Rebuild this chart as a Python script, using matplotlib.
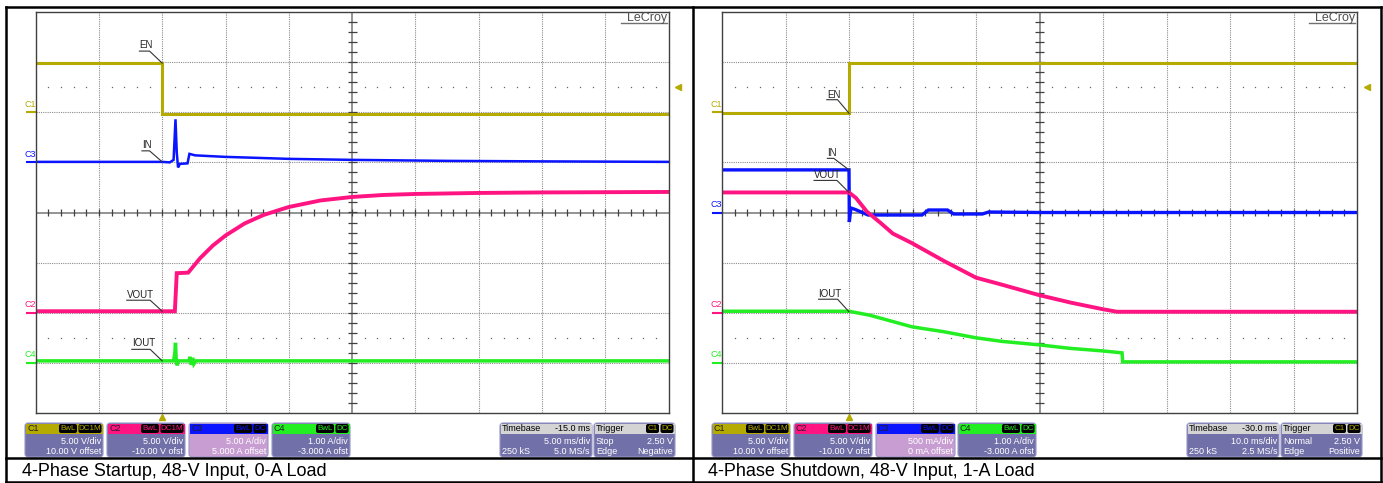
import matplotlib.pyplot as plt
import numpy as np
from matplotlib.patches import FancyBboxPatch, Rectangle

plt.rcParams['font.family'] = ['Liberation Sans', 'DejaVu Sans']

W, H = 1383, 483

# scope traces in divisions (x 0..10, y -4..4)
# startup (left screen)
s_en_t = [0, 2.0, 2.0, 10]
s_en_v = [2.98, 2.98, 1.97, 1.97]
s_in_t = [0, 2.0, 2.12, 2.18, 2.21, 2.23, 2.25, 2.28, 2.40, 2.43, 2.52, 2.99, 3.5, 4.0, 5.0, 6.5, 8.0, 10]
s_in_v = [1.01, 1.01, 1.0, 1.05, 1.86, 1.2, 0.9, 0.97, 0.98, 1.17, 1.14, 1.11, 1.09, 1.07, 1.05, 1.03, 1.02, 1.01]
s_vout_t = [0, 2.2, 2.23, 2.41, 2.6, 2.8, 3.0, 3.3, 3.6, 4.0, 4.5, 5.0, 5.5, 6.0, 7.0, 8.0, 10]
s_vout_v = [-1.97, -1.97, -1.21, -1.20, -0.91, -0.66, -0.46, -0.22, -0.05, 0.11, 0.24, 0.31, 0.35, 0.37, 0.39, 0.40, 0.41]
s_iout_t = [0, 2.18, 2.20, 2.21, 2.22, 2.235, 2.26, 2.42, 2.44, 2.46, 2.48, 2.50, 2.53, 10]
s_iout_v = [-2.96, -2.96, -2.8, -2.6, -2.9, -3.05, -2.96, -2.96, -2.88, -3.04, -2.9, -3.02, -2.96, -2.96]

# shutdown (right screen)
d_en_t = [0, 2.0, 2.0, 10]
d_en_v = [1.98, 1.98, 2.99, 2.99]
d_in_t = [0, 2.0, 2.005, 2.03, 2.1, 2.3, 3.15, 3.25, 3.55, 3.65, 4.1, 4.2, 5.0, 10]
d_in_v = [0.85, 0.85, -0.19, 0.09, 0.06, -0.05, -0.05, 0.05, 0.05, -0.03, -0.03, 0.01, 0.0, 0.0]
d_vout_t = [0, 2.0, 2.11, 2.28, 2.49, 2.69, 2.99, 3.5, 4.0, 4.38, 5.0, 5.5, 6.0, 6.22, 10]
d_vout_v = [0.40, 0.40, 0.29, 0.02, -0.20, -0.42, -0.61, -0.97, -1.30, -1.43, -1.65, -1.80, -1.93, -1.98, -1.98]
d_iout_t = [0, 2.0, 2.33, 2.99, 3.5, 4.0, 4.4, 4.99, 5.48, 5.98, 6.30, 6.31, 10]
d_iout_v = [-1.97, -1.97, -2.05, -2.28, -2.38, -2.50, -2.57, -2.64, -2.71, -2.76, -2.80, -2.98, -2.98]

c1, c2, c3, c4 = '#b4aa00', '#ff1482', '#0a14ff', '#22ee22'
body = '#7170a8'
body3 = '#c89ed2'

captions = ['4-Phase Startup, 48-V Input, 0-A Load', '4-Phase Shutdown, 48-V Input, 1-A Load']

chan_box = [
    ('C1', c1, ['BwL', 'DC1M'], ['5.00 V/div', '10.00 V offset'], body),
    ('C2', c2, ['BwL', 'DC1M'], ['5.00 V/div', '-10.00 V ofst'], body),
    ('C3', c3, ['BwL', 'DC'], ['5.00 A/div', '5.000 A offset'], body3),
    ('C4', c4, ['BwL', 'DC'], ['1.00 A/div', '-3.000 A ofst'], body),
]
chan_box2 = [
    chan_box[0], chan_box[1],
    ('C3', c3, ['BwL', 'DC'], ['500 mA/div', '0 mA offset'], body3),
    chan_box[3],
]
timebase = [('-15.0 ms', '5.00 ms/div', '250 kS', '5.0 MS/s', 'Stop', '2.50 V', 'Negative'),
            ('-30.0 ms', '10.0 ms/div', '250 kS', '2.5 MS/s', 'Normal', '2.50 V', 'Positive')]

fig = plt.figure(figsize=(W / 100, H / 100), dpi=100)
bg = fig.add_axes([0, 0, 1, 1])
bg.set_xlim(0, W)
bg.set_ylim(H, 0)
bg.axis('off')

# outer frame
for x in [5.5, 693, 1381]:
    bg.plot([x, x], [7, H], color='black', lw=1.8)
for y in [7, 458, 482]:
    bg.plot([5.5, 1381], [y, y], color='black', lw=1.8)


def tag_row(x_right, y, tags, col):
    # little black tags, right aligned
    for tg in reversed(tags):
        w = 5.0 * len(tg) + 3
        bg.add_patch(FancyBboxPatch((x_right - w, y - 4.5), w, 9, boxstyle='round,pad=0,rounding_size=2',
                                    fc='black', ec='none'))
        bg.text(x_right - w / 2, y + 0.3, tg, color=col, fontsize=5.8, ha='center', va='center')
        x_right -= w + 1.5


def chan_panel(x, w, name, col, tags, lines, bcol):
    top = 423
    bg.add_patch(FancyBboxPatch((x, top), w, 34, boxstyle='round,pad=0,rounding_size=3',
                                fc=bcol, ec='#9a98c8', lw=0.8))
    bg.add_patch(Rectangle((x + 0.5, top + 0.5), w - 1, 10, fc=col, ec='none'))
    bg.text(x + 2, top + 5.5, name, fontsize=6.5, color='#202020', va='center')
    tag_row(x + w - 1.5, top + 5.5, tags, col)
    bg.text(x + w - 2, top + 18, lines[0], fontsize=6.5, color='white', ha='right', va='center')
    bg.text(x + w - 2, top + 29, lines[1], fontsize=6.5, color='white', ha='right', va='center')


def time_panels(x, info):
    top = 423
    off, div, ks, rate, mode, lvl, slope = info
    bg.add_patch(FancyBboxPatch((x, top), 92, 34, boxstyle='round,pad=0,rounding_size=3',
                                fc=body, ec='#9a98c8', lw=0.8))
    bg.add_patch(Rectangle((x + 0.5, top + 0.5), 91, 10, fc='#d4d4d4', ec='none'))
    bg.text(x + 2, top + 5.5, 'Timebase', fontsize=6.5, va='center')
    bg.text(x + 90, top + 5.5, off, fontsize=6.5, va='center', ha='right')
    bg.text(x + 90, top + 18, div, fontsize=6.5, va='center', ha='right', color='white')
    bg.text(x + 2, top + 29, ks, fontsize=6.5, va='center', color='white')
    bg.text(x + 90, top + 29, rate, fontsize=6.5, va='center', ha='right', color='white')
    x2 = x + 94
    bg.add_patch(FancyBboxPatch((x2, top), 81, 34, boxstyle='round,pad=0,rounding_size=3',
                                fc=body, ec='#9a98c8', lw=0.8))
    bg.add_patch(Rectangle((x2 + 0.5, top + 0.5), 80, 10, fc='#d4d4d4', ec='none'))
    bg.text(x2 + 2, top + 5.5, 'Trigger', fontsize=6.5, va='center')
    tag_row(x2 + 79.5, top + 5.5, ['C1', 'DC'], c1)
    bg.text(x2 + 2, top + 18, mode, fontsize=6.5, va='center', color='white')
    bg.text(x2 + 79, top + 18, lvl, fontsize=6.5, va='center', ha='right', color='white')
    bg.text(x2 + 2, top + 29, 'Edge', fontsize=6.5, va='center', color='white')
    bg.text(x2 + 79, top + 29, slope, fontsize=6.5, va='center', ha='right', color='white')


def screen(rect, traces, levels, labels):
    ax = fig.add_axes(rect)
    ax.set_xlim(0, 10)
    ax.set_ylim(-4, 4)
    ax.set_xticks([])
    ax.set_yticks([])
    for sp in ax.spines.values():
        sp.set_color('#404040')
        sp.set_linewidth(1)
    for k in range(1, 10):
        if k != 5:
            ax.axvline(k, color='#8c8c8c', lw=0.8, ls=(0, (1, 1)))
    for k in range(-3, 4):
        if k != 0:
            ax.axhline(k, color='#8c8c8c', lw=0.8, ls=(0, (1, 1)))
    ax.axhline(0, color='#808080', lw=1.2)
    ax.axvline(5, color='#808080', lw=1.2)
    tk = np.arange(0.2, 10, 0.2)
    ax.vlines(tk, -0.07, 0.07, color='#404040', lw=0.9)
    tk = np.arange(-3.8, 4, 0.2)
    ax.hlines(tk, 4.93, 5.07, color='#404040', lw=0.9)
    # trigger level dots
    dots = [d for d in np.arange(0.2, 10, 0.2) if abs(d - round(d)) > 0.05]
    for lv in [2.5, -2.5]:
        ax.plot(dots, [lv] * len(dots), ls='none', marker='s', ms=0.9, mew=0, color='#666666')

    for t, v, col, lw in traces:
        ax.plot(t, v, color=col, lw=lw, solid_joinstyle='miter')

    # channel markers on left edge
    for name, col, lv in levels:
        ax.plot([-0.14, 0], [lv, lv], color=col, lw=1.5, clip_on=False)
        ax.text(-0.09, lv + 0.07, name, color=col, fontsize=6.5, ha='center', va='bottom')
    ax.plot([2.0], [-4.07], marker='^', ms=5, color=c1, clip_on=False)
    ax.plot([10.15], [2.5], marker='<', ms=5, color=c1, clip_on=False)

    for txt, x0, x1, ytxt, yul, ytg, vtg in labels:
        ax.text(x0, ytxt, txt, fontsize=7, color='#222222', va='center', ha='left')
        ax.plot([x0, x1, 2.0], [yul, yul, vtg], color='#333333', lw=0.8)

    ax.text(0.997, 0.978, 'LeCroy', transform=ax.transAxes, ha='right', va='baseline',
            fontsize=9, color='#505050')
    ax.plot([0.925, 0.997], [0.972, 0.972], transform=ax.transAxes, color='#707070', lw=1)
    return ax


screen([35.6 / W, 70 / H, 633 / W, 401 / H],
       [(s_en_t, s_en_v, c1, 2.2), (s_in_t, s_in_v, c3, 1.8),
        (s_vout_t, s_vout_v, c2, 2.8), (s_iout_t, s_iout_v, c4, 2.5)],
       [('C1', c1, 2.0), ('C3', c3, 1.0), ('C2', c2, -2.0), ('C4', c4, -3.0)],
       [('EN', 1.64, 1.80, 3.34, 3.22, 2.0, 2.98),
        ('IN', 1.68, 1.80, 1.35, 1.23, 2.0, 1.01),
        ('VOUT', 1.44, 1.81, -1.64, -1.75, 2.0, -1.97),
        ('IOUT', 1.52, 1.81, -2.61, -2.73, 2.0, -2.96)])

screen([722 / W, 70 / H, 635 / W, 401 / H],
       [(d_en_t, d_en_v, c1, 2.2), (d_in_t, d_in_v, c3, 2.4),
        (d_vout_t, d_vout_v, c2, 2.8), (d_iout_t, d_iout_v, c4, 2.5)],
       [('C1', c1, 2.0), ('C3', c3, 0.0), ('C2', c2, -2.0), ('C4', c4, -3.0)],
       [('EN', 1.65, 1.82, 2.35, 2.25, 2.0, 1.98),
        ('IN', 1.66, 1.76, 1.19, 1.08, 2.0, 0.85),
        ('VOUT', 1.45, 1.81, 0.75, 0.64, 2.0, 0.40),
        ('IOUT', 1.52, 1.82, -1.62, -1.73, 2.0, -1.98)])

xs = [[25, 107, 189, 272], [712, 794, 876, 958]]
ws = [78, 78, 79, 78]
for boxes, xrow in zip([chan_box, chan_box2], xs):
    for b, x, w in zip(boxes, xrow, ws):
        chan_panel(x, w, *b)
time_panels(500, timebase[0])
time_panels(1187, timebase[1])

bg.text(22, 471, captions[0], fontsize=13, va='center')
bg.text(708, 471, captions[1], fontsize=13, va='center')

fig.savefig('out.png', dpi=100)
